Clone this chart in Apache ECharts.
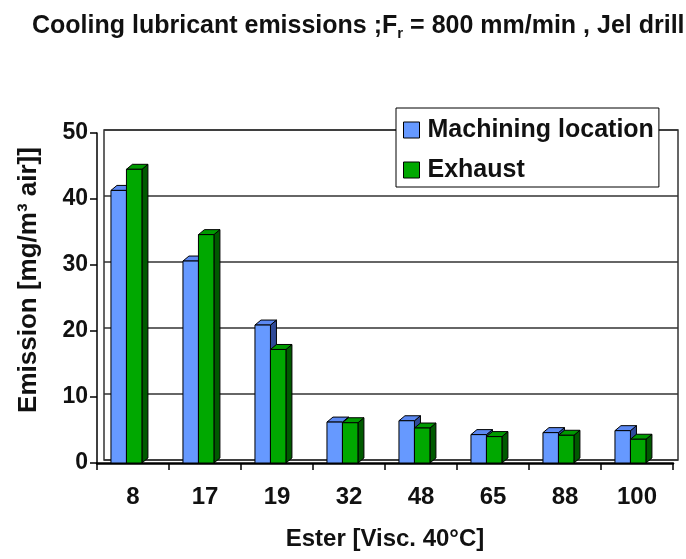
<!DOCTYPE html>
<html>
<head>
<meta charset="utf-8">
<script src="https://cdn.jsdelivr.net/npm/echarts@6/dist/echarts.min.js"></script>
<style>
  html, body { margin: 0; padding: 0; background: #fff; }
  #chart { width: 686px; height: 559px; }
</style>
</head>
<body>
<div id="chart"></div>
<script>
// Ester viscosity classes on the x axis
const categories = ['8', '17', '19', '32', '48', '65', '88', '100'];
// Emission in mg per m³ of air
const machiningLocation = [41.3, 30.6, 20.9, 6.2, 6.4, 4.3, 4.6, 4.9];
const exhaust = [44.5, 34.6, 17.2, 6.1, 5.3, 4.0, 4.2, 3.6];
// value axis range
const yMin = 0, yMax = 50, yStep = 10;

const FONT = '"Liberation Sans", Arial, Helvetica, sans-serif';

const blueFaces = { front: '#6699ff', top: '#5b88f2', side: '#2f4a99' };
const greenFaces = { front: '#00a800', top: '#009a00', side: '#005a00' };

// pseudo-3D column: front face, top face and right side face
function bar3d(slot, faces) {
  return function (params, api) {
    const idx = api.value(0);
    const val = api.value(1);
    const band = api.size([1, 0])[0];
    const base = api.coord([idx, 0]);
    const top = api.coord([idx, val]);
    const w = band * 0.215;
    const x0 = base[0] - band * 0.306 + slot * w;
    const yb = base[1], yt = top[1];
    const dx = 6, dy = -5;
    const edge = { stroke: '#000', lineWidth: 1 };
    return {
      type: 'group',
      children: [
        { type: 'polygon',
          shape: { points: [[x0 + w, yt], [x0 + w + dx, yt + dy], [x0 + w + dx, yb + dy], [x0 + w, yb]] },
          style: Object.assign({ fill: faces.side }, edge) },
        { type: 'polygon',
          shape: { points: [[x0, yt], [x0 + dx, yt + dy], [x0 + w + dx, yt + dy], [x0 + w, yt]] },
          style: Object.assign({ fill: faces.top }, edge) },
        { type: 'rect',
          shape: { x: x0, y: yt, width: w, height: yb - yt },
          style: Object.assign({ fill: faces.front }, edge) }
      ]
    };
  };
}

const chart = echarts.init(document.getElementById('chart'), null, { renderer: 'canvas' });

chart.setOption({
  animation: false,
  backgroundColor: '#fff',
  title: {
    text: 'Cooling lubricant emissions ;F{sub|r} = 800 mm/min , Jel drill',
    left: 27,
    top: 6,
    textStyle: {
      fontFamily: FONT, fontSize: 25, fontWeight: 'bold', color: '#111', lineHeight: 30,
      rich: {
        sub: { fontFamily: FONT, fontSize: 15, fontWeight: 'bold', color: '#111', lineHeight: 14, verticalAlign: 'bottom' }
      }
    }
  },
  legend: {
    orient: 'vertical',
    left: 396,
    top: 108,
    z: 20,
    backgroundColor: '#fff',
    borderColor: '#000',
    borderWidth: 1,
    padding: [9, 5, 4, 7],
    itemWidth: 16,
    itemHeight: 16,
    itemGap: 14,
    itemStyle: { borderColor: '#000', borderWidth: 1 },
    textStyle: { fontFamily: FONT, fontSize: 25, lineHeight: 26, fontWeight: 'bold', color: '#111', padding: [0, 0, 0, 3] },
    data: [
      { name: 'Machining location', icon: 'rect' },
      { name: 'Exhaust', icon: 'rect' }
    ]
  },
  grid: [
    // front axes
    { left: 97, right: 13, top: 133, bottom: 96 },
    // back wall with gridlines
    { left: 104, right: 8, top: 130, bottom: 99, show: true, borderColor: '#333', borderWidth: 1.5, backgroundColor: 'transparent', z: 0 }
  ],
  xAxis: [
    {
      gridIndex: 0,
      type: 'category',
      data: categories,
      boundaryGap: true,
      axisLine: { lineStyle: { color: '#000', width: 2.5 } },
      axisTick: { show: true, length: 7, lineStyle: { color: '#000', width: 1.5 } },
      axisLabel: { margin: 22, fontFamily: FONT, fontSize: 24, fontWeight: 'bold', color: '#111' },
      name: 'Ester [Visc. 40°C]',
      nameLocation: 'middle',
      nameGap: 64,
      nameTextStyle: { fontFamily: FONT, fontSize: 24, fontWeight: 'bold', color: '#111' }
    },
    { gridIndex: 1, type: 'category', data: categories, show: false }
  ],
  yAxis: [
    {
      gridIndex: 0,
      type: 'value',
      min: yMin, max: yMax, interval: yStep,
      axisLine: { show: true, lineStyle: { color: '#000', width: 1.5 } },
      axisTick: { show: true, length: 7, lineStyle: { color: '#000', width: 1.5 } },
      splitLine: { show: false },
      axisLabel: { margin: 9, fontFamily: FONT, fontSize: 23, fontWeight: 'bold', color: '#111' },
      name: 'Emission [mg/m³ air]]',
      nameLocation: 'middle',
      nameGap: 55,
      nameTextStyle: { fontFamily: FONT, fontSize: 26, fontWeight: 'bold', color: '#111', padding: [0, 0, 0, 36] }
    },
    {
      gridIndex: 1,
      type: 'value',
      min: yMin, max: yMax, interval: yStep,
      axisLine: { show: false },
      axisTick: { show: false },
      axisLabel: { show: false },
      splitLine: { show: true, lineStyle: { color: '#333', width: 1.5 } }
    }
  ],
  series: [
    {
      name: 'Machining location',
      type: 'custom',
      xAxisIndex: 0, yAxisIndex: 0,
      itemStyle: { color: blueFaces.front },
      renderItem: bar3d(0, blueFaces),
      encode: { x: 0, y: 1 },
      data: machiningLocation.map((v, i) => [i, v]),
      z: 5
    },
    {
      name: 'Exhaust',
      type: 'custom',
      xAxisIndex: 0, yAxisIndex: 0,
      itemStyle: { color: greenFaces.front },
      renderItem: bar3d(1, greenFaces),
      encode: { x: 0, y: 1 },
      data: exhaust.map((v, i) => [i, v]),
      z: 6
    }
  ]
});
</script>
</body>
</html>
